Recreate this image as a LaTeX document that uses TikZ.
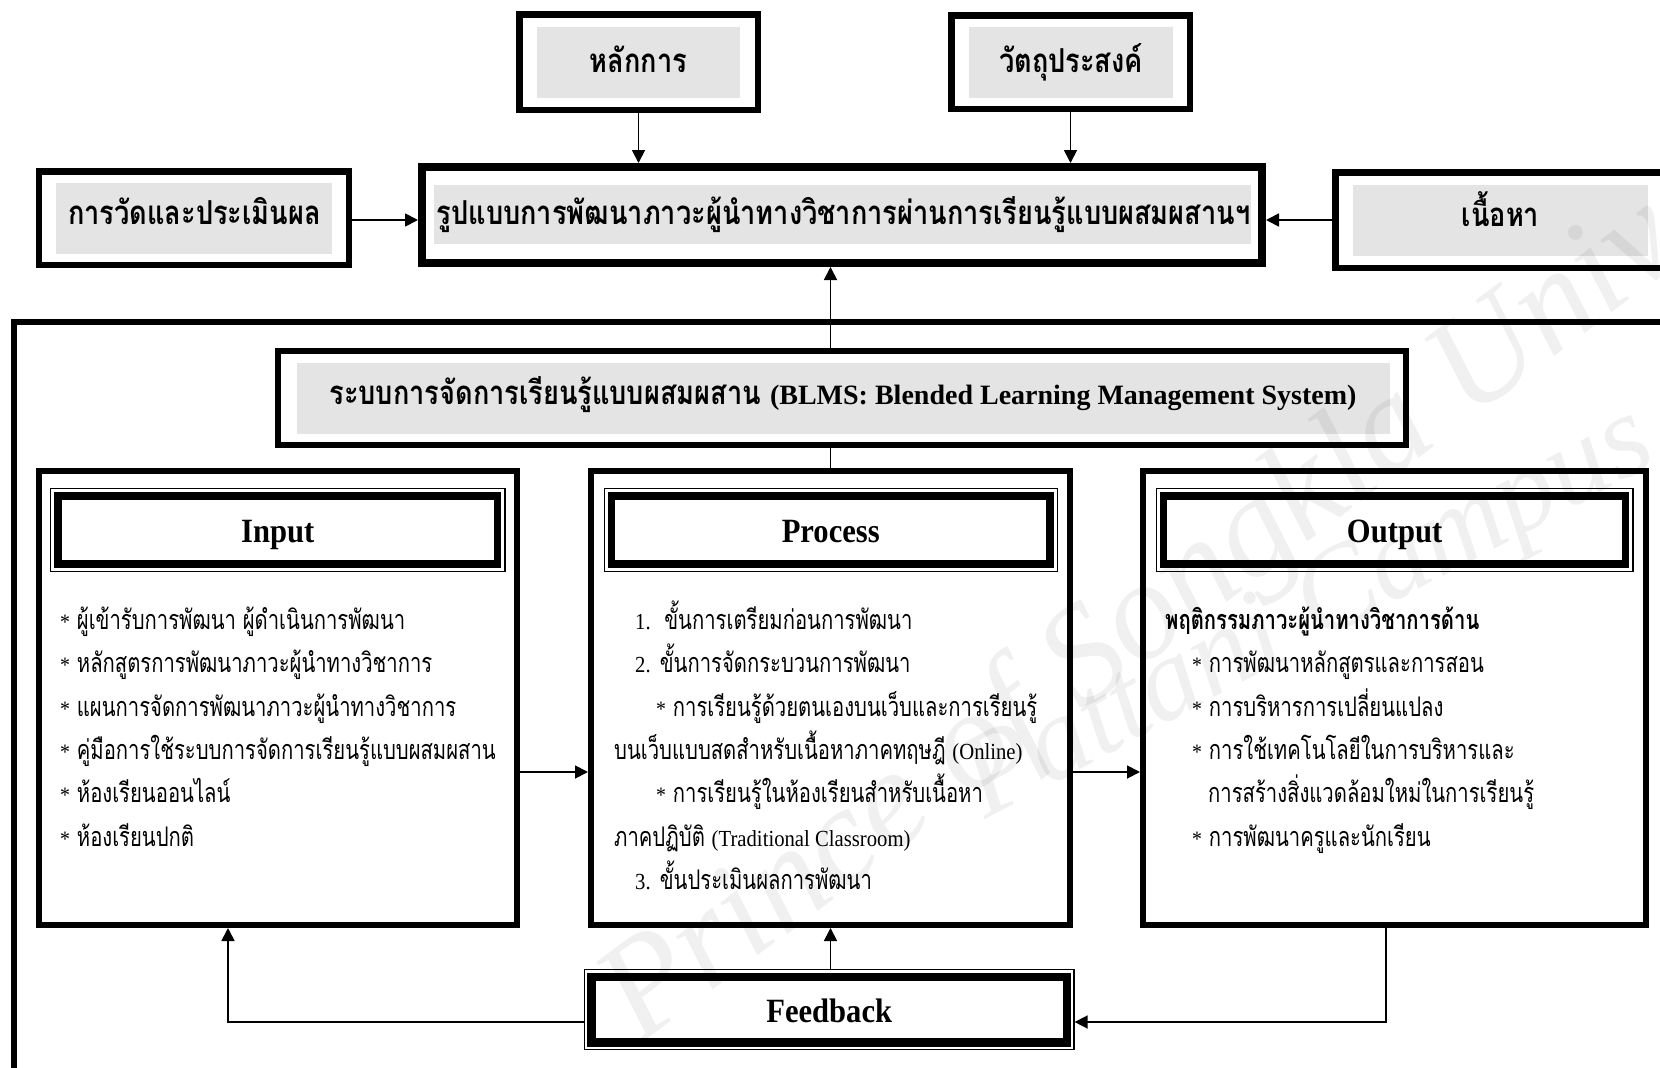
\documentclass[tikz,border=0pt]{standalone}
\usepackage{fontspec}
\setmainfont{Liberation Serif}
\newfontfamily\lat[FakeStretch=0.9]{Liberation Serif}
\newfontfamily\thai[Script=Thai,FakeStretch=0.75]{Loma}
\newfontfamily\thaih[Script=Thai,FakeStretch=0.823]{Loma}
\usetikzlibrary{arrows.meta,fit}
\definecolor{gfill}{RGB}{228,228,228}
\newcommand\bul{{\lat\fontsize{22}{26}\selectfont *}\ }
\newcommand\thb{\thaih\bfseries\fontsize{33}{40}\selectfont}
\newcommand\thr{\thai\fontsize{27}{32}\selectfont}
\newcommand\latr{\lat\fontsize{23}{27}\selectfont}
\begin{document}
\begin{tikzpicture}[x=1pt,y=-1pt,
  frame/.style={draw, line width=#1, inner sep=0pt},
  thinframe/.style={draw, line width=1.2pt, inner sep=#1},
  arr/.style={line width=1.8pt, -{Triangle[length=13pt,width=13pt]}},
  ln/.style={line width=1.8pt},
  hd/.style={anchor=base, inner sep=0pt, font=\thb},
  bt/.style={anchor=base west, inner sep=0pt, font=\thr},
  tt/.style={anchor=base, inner sep=0pt, font=\lat\bfseries\fontsize{34}{40}\selectfont},
  wmark/.style={anchor=base west, inner sep=0pt, text opacity=0.06},
]
\useasboundingbox (0,0) rectangle (1660,1068);
\clip (0,0) rectangle (1660,1068);
\fill[white] (0,0) rectangle (1660,1068);

% gray fills
\fill[gfill] (537,27) rectangle (740,98);
\fill[gfill] (969,27) rectangle (1173,98);
\fill[gfill] (56,183) rectangle (332,254);
\fill[gfill] (434,185) rectangle (1251,244);
\fill[gfill] (1353,185) rectangle (1648,256);
\fill[gfill] (296.5,363) rectangle (1390,434);

% outer frame
\draw[line width=6pt] (14,322) rectangle (1740,1071);

% boxes
\node[frame=6.5pt, minimum width=238.5, minimum height=95.5] (hlak) at (638.5,62) {};
\node[frame=6.5pt, minimum width=238.5, minimum height=93.5] (wat) at (1070.5,62) {};
\node[frame=6.5pt, minimum width=310, minimum height=93.5] (wad) at (193.75,218) {};
\node[frame=8pt, minimum width=840, minimum height=96] (mainb) at (842,215) {};
\node[frame=6.5pt, minimum width=381.5, minimum height=95.5] (nuea) at (1526,220) {};
\node[frame=6pt, minimum width=1128, minimum height=94] (blms) at (842,398) {};
\node[frame=6pt, minimum width=478.5, minimum height=454] (inp) at (277.75,698) {};
\node[frame=6pt, minimum width=479, minimum height=454] (proc) at (830.5,698) {};
\node[frame=6pt, minimum width=503, minimum height=454] (outp) at (1394.5,698) {};

% title boxes
\node[frame=7.5pt, minimum width=439.4, minimum height=67.9] (inpt) at (277.75,530) {};
\node[thinframe=3.7pt, fit=(inpt)] (inpto) {};
\node[frame=7.5pt, minimum width=438.4, minimum height=67.9] (proct) at (830.75,530) {};
\node[thinframe=3.7pt, fit=(proct)] (procto) {};
\node[frame=7.5pt, minimum width=461.9, minimum height=67.9] (outpt) at (1394.6,530) {};
\node[thinframe=3.7pt, fit=(outpt)] (outpto) {};
\node[frame=8.5pt, minimum width=475.2, minimum height=65.5] (fb) at (829.2,1009.7) {};
\node[thinframe=3pt, fit=(fb)] (fbo) {};

% connectors
\coordinate (yL) at (0,220);
\coordinate (ym) at (0,772);
\coordinate (fl) at (228,1022);
\coordinate (fr) at (1386,1022);
\draw[arr] (hlak.south) -- (mainb.north -| hlak.south);
\draw[arr] (wat.south) -- (mainb.north -| wat.south);
\draw[arr] (wad.east |- yL) -- (mainb.west |- yL);
\draw[arr] (nuea.west |- yL) -- (mainb.east |- yL);
\draw[arr] (proc.north |- blms.north) -- (proc.north |- mainb.south);
\draw[ln] (proc.north |- blms.south) -- (proc.north);
\draw[arr] (inp.east |- ym) -- (proc.west |- ym);
\draw[arr] (proc.east |- ym) -- (outp.west |- ym);
\draw[arr] (fbo.north -| proc.south) -- (proc.south);
\draw[arr] (fbo.west |- fl) -| (fl |- inp.south);
\draw[arr] (fr |- outp.south) |- (fbo.east |- fr);

% heading texts
\node[hd] (t1) at (638.5,72) {หลักการ};
\node[hd] (t2) at (1071,72) {วัตถุประสงค์};
\node[hd] (t3) at (194.5,224) {การวัดและประเมินผล};
\node[hd] (t4) at (843.5,224) {รูปแบบการพัฒนาภาวะผู้นำทางวิชาการผ่านการเรียนรู้แบบผสมผสานฯ};
\node[hd] (t5) at (1500.5,226) {เนื้อหา};
\node[hd] (t6) at (843,404) {ระบบการจัดการเรียนรู้แบบผสมผสาน {\rmfamily\bfseries\fontsize{28}{32}\selectfont (BLMS: Blended Learning Management System)}};

\node[tt] (x1) at (277.75,542) {Input};
\node[tt] (x2) at (830.75,542) {Process};
\node[tt] (x3) at (1394.6,542) {Output};
\node[tt] (x4) at (829.2,1022) {Feedback};

% input items
\node[bt] (i1) at (60,629) {\bul ผู้เข้ารับการพัฒนา ผู้ดำเนินการพัฒนา};
\node[bt] (i2) at (60,672) {\bul หลักสูตรการพัฒนาภาวะผู้นำทางวิชาการ};
\node[bt] (i3) at (60,716) {\bul แผนการจัดการพัฒนาภาวะผู้นำทางวิชาการ};
\node[bt] (i4) at (60,759) {\bul คู่มือการใช้ระบบการจัดการเรียนรู้แบบผสมผสาน};
\node[bt] (i5) at (60,802) {\bul ห้องเรียนออนไลน์};
\node[bt] (i6) at (60,846) {\bul ห้องเรียนปกติ};

% process items
\node[bt] (p1) at (635,629) {{\latr 1.}\ \ ขั้นการเตรียมก่อนการพัฒนา};
\node[bt] (p2) at (635,672) {{\latr 2.} ขั้นการจัดกระบวนการพัฒนา};
\node[bt] (p3) at (656,716) {\bul การเรียนรู้ด้วยตนเองบนเว็บและการเรียนรู้};
\node[bt] (p4) at (614,759) {บนเว็บแบบสดสำหรับเนื้อหาภาคทฤษฎี {\latr (Online)}};
\node[bt] (p5) at (656,802) {\bul การเรียนรู้ในห้องเรียนสำหรับเนื้อหา};
\node[bt] (p6) at (614,846) {ภาคปฏิบัติ {\latr (Traditional Classroom)}};
\node[bt] (p7) at (635,889) {{\latr 3.} ขั้นประเมินผลการพัฒนา};

% output items
\node[bt, font=\thr\bfseries] (o1) at (1165,629) {พฤติกรรมภาวะผู้นำทางวิชาการด้าน};
\node[bt] (o2) at (1192,672) {\bul การพัฒนาหลักสูตรและการสอน};
\node[bt] (o3) at (1192,716) {\bul การบริหารการเปลี่ยนแปลง};
\node[bt] (o4) at (1192,759) {\bul การใช้เทคโนโลยีในการบริหารและ};
\node[bt] (o5) at (1208,802) {การสร้างสิ่งแวดล้อมใหม่ในการเรียนรู้};
\node[bt] (o6) at (1192,846) {\bul การพัฒนาครูและนักเรียน};

% watermark
\node[wmark, rotate=37, font=\rmfamily\itshape\fontsize{140}{140}\selectfont] (wm1) at (640,1045) {Prince of Songkla University};
\node[wmark, rotate=28, font=\rmfamily\itshape\fontsize{118}{118}\selectfont] (wm2) at (985,820) {Pattani Campus};
\end{tikzpicture}
\end{document}
